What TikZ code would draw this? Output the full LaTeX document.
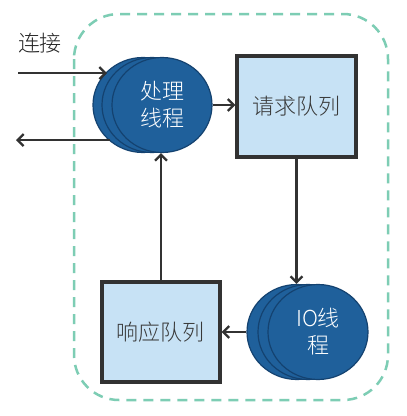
\documentclass[tikz,border=0pt]{standalone}
\usepackage{fontspec}
\newfontfamily\cjk{Noto Sans CJK SC Light}
\usetikzlibrary{shapes.geometric,arrows.meta}
\definecolor{thblue}{RGB}{31,96,155}
\definecolor{thedge}{RGB}{20,66,112}
\definecolor{qfill}{RGB}{199,226,245}
\definecolor{dashc}{RGB}{125,205,180}
\definecolor{arrc}{RGB}{50,50,50}
\tikzset{
  thread/.style={ellipse, draw=thedge, line width=1.2pt, fill=thblue, minimum width=100pt, minimum height=95pt, inner sep=0pt, text=white, font=\cjk\fontsize{22}{27}\selectfont, align=center},
  queue/.style={rectangle, draw=arrc, line width=3.2pt, fill=qfill, inner sep=0pt, text=black!78, font=\cjk\fontsize{22}{26}\selectfont},
  conn/.style={draw=arrc, line width=2.3pt, -{Straight Barb[length=6pt,width=12pt,line width=2.3pt]}},
}
\begin{document}
\begin{tikzpicture}[x=1pt,y=-1pt]
\useasboundingbox (0,0) rectangle (407,416);
\fill[white] (0,0) rectangle (407,416);
% dashed frame
\draw[dashc, line width=2.5pt, dash pattern=on 10pt off 7pt, rounded corners=45pt] (74,14) rectangle (388,400);
% text
\node[font=\cjk\fontsize{22}{26}\selectfont, text=black!85] (lab) at (40,43) {连接};
% processing threads
\node[thread] (bt1) at (143,105) {};
\node[thread] (bt2) at (152,105) {};
\node[thread] (proc) at (162,105) {处理\\线程};
% request queue
\node[queue, minimum width=119pt, minimum height=101pt] (req) at (296.5,106.5) {请求队列};
% IO threads
\node[thread] (it1) at (297,332) {};
\node[thread] (it2) at (308,332) {};
\node[thread] (io) at (318,332) {IO线\\程};
% response queue
\node[queue, minimum width=118pt, minimum height=100pt] (resp) at (161,332) {响应队列};
% connectors
\coordinate (inS) at (18,73);
\coordinate (inE) at (107,73);
\coordinate (outS) at (110,140);
\coordinate (outE) at (16,140);
\draw[conn] (inS) -- (inE);
\draw[conn] (outS) -- (outE);
\draw[conn] (proc.east) -- (proc.east -| req.west);
\draw[conn] (req.south) -- (req.south |- it1.north);
\draw[conn] (it1.west) -- (resp.east);
\draw[conn] (resp.north) -- (resp.north |- proc.south);
\end{tikzpicture}
\end{document}
